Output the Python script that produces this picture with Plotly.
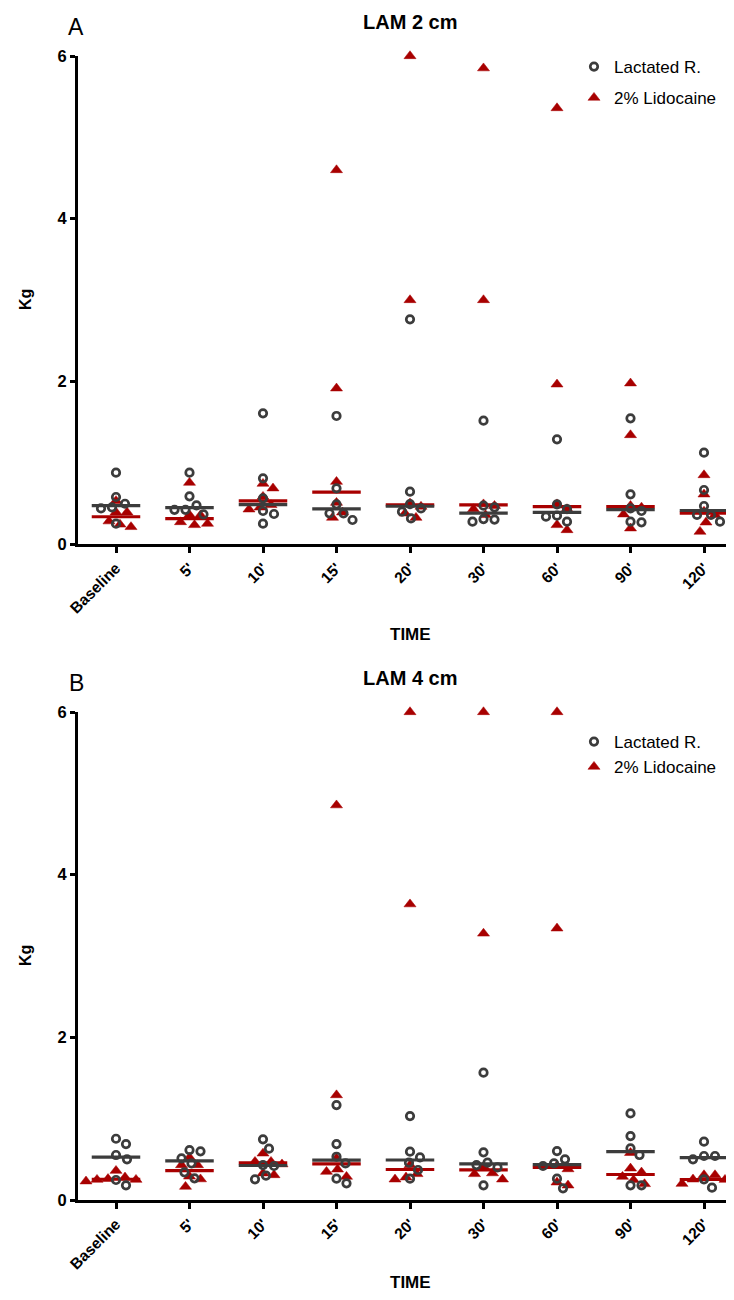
import numpy as np
import plotly.graph_objects as go

categories = ["Baseline", "5'", "10'", "15'", "20'", "30'", "60'", "90'", "120'"]
y_ticks = [0, 2, 4, 6]

# Panel A (LAM 2 cm), Kg, 6 animals per group
a_lactated = [
    [0.877, 0.578, 0.45, 0.495, 0.438, 0.25],
    [0.877, 0.586, 0.42, 0.42, 0.475, 0.365],
    [1.607, 0.807, 0.561, 0.406, 0.369, 0.25],
    [1.574, 0.685, 0.488, 0.377, 0.377, 0.295],
    [2.763, 0.643, 0.49, 0.438, 0.397, 0.315],
    [1.516, 0.471, 0.45, 0.307, 0.274, 0.30],
    [1.287, 0.488, 0.43, 0.348, 0.336, 0.274],
    [1.545, 0.611, 0.438, 0.406, 0.274, 0.266],
    [1.123, 0.664, 0.467, 0.357, 0.357, 0.274],
]
a_lidocaine = [
    [0.53, 0.39, 0.39, 0.28, 0.24, 0.21],
    [0.754, 0.357, 0.355, 0.27, 0.25, 0.234],
    [0.742, 0.685, 0.582, 0.48, 0.45, 0.426],
    [4.598, 1.914, 0.766, 0.508, 0.39, 0.324],
    [6.0, 3.0, 0.50, 0.46, 0.377, 0.324],
    [5.85, 3.0, 0.49, 0.47, 0.43, 0.357],
    [5.36, 1.963, 0.49, 0.43, 0.234, 0.172],
    [1.976, 1.34, 0.47, 0.45, 0.365, 0.193],
    [0.848, 0.611, 0.40, 0.357, 0.266, 0.152],
]

# Panel B (LAM 4 cm)
b_lactated = [
    [0.753, 0.688, 0.553, 0.5, 0.246, 0.18],
    [0.614, 0.598, 0.512, 0.45, 0.34, 0.266],
    [0.746, 0.631, 0.43, 0.418, 0.299, 0.254],
    [1.167, 0.688, 0.532, 0.45, 0.262, 0.205],
    [1.032, 0.594, 0.524, 0.459, 0.369, 0.262],
    [1.565, 0.586, 0.459, 0.43, 0.401, 0.18],
    [0.602, 0.5, 0.45, 0.418, 0.262, 0.143],
    [1.065, 0.786, 0.635, 0.553, 0.18, 0.18],
    [0.717, 0.541, 0.541, 0.5, 0.254, 0.152],
]
b_lidocaine = [
    [0.36, 0.279, 0.26, 0.25, 0.25, 0.23],
    [0.524, 0.43, 0.43, 0.29, 0.256, 0.164],
    [0.573, 0.471, 0.471, 0.44, 0.328, 0.307],
    [4.854, 1.29, 0.512, 0.377, 0.348, 0.287],
    [6.0, 3.637, 0.43, 0.32, 0.279, 0.254],
    [6.0, 3.277, 0.41, 0.33, 0.32, 0.254],
    [6.0, 3.34, 0.42, 0.38, 0.217, 0.18],
    [0.58, 0.389, 0.34, 0.287, 0.246, 0.197],
    [0.307, 0.307, 0.254, 0.25, 0.2, 0.2],
]

# ---------------- layout geometry (page pixels) ----------------
PAGE_W, PAGE_H = 734, 1300
OFF = 8                      # default body margin of the page
FW, FH = PAGE_W - OFF, PAGE_H - 2 * OFF
FONT = "Liberation Sans, Arial, sans-serif"
GRAY = "#3c3c3c"
RED = "#a80000"


def fx(px):
    return (px - OFF) / FW


def fy(py):
    return 1 - (py - OFF) / FH


X_LEFT, X_RIGHT = 78, 734
XMIN = -0.517
XMAX = XMIN + (X_RIGHT - X_LEFT) / 73.5
PPX = (X_RIGHT - X_LEFT) / (XMAX - XMIN)
PANELS = [
    dict(top=56, bottom=544, title="LAM 2 cm", letter="A", lr=a_lactated, li=a_lidocaine,
         legend="legend", leg_y=49, gap=6, order="grouped"),
    dict(top=712, bottom=1200, title="LAM 4 cm", letter="B", lr=b_lactated, li=b_lidocaine,
         legend="legend2", leg_y=724, gap=0, order="normal"),
]


def swarm(vals, ppy, d=11.0):
    vals = np.asarray(vals, dtype=float)
    order = np.argsort(-vals, kind="stable")
    placed = []
    offs = np.zeros(len(vals))
    for i in order:
        y = vals[i] * ppy
        cand = 0.0
        for k in range(400):
            cand = 0.0 if k == 0 else ((k + 1) // 2) * (1 if k % 2 else -1) * 1.0
            if all((cand - px) ** 2 + (y - py) ** 2 >= d * d for px, py in placed):
                break
        placed.append((cand, y))
        offs[i] = cand / PPX
    return offs


fig = go.Figure()
annotations = []

for p_idx, P in enumerate(PANELS):
    sfx = "" if p_idx == 0 else "2"
    xref, yref = "x" + sfx, "y" + sfx
    ppy = (P["bottom"] - P["top"]) / 6.0

    def points(groups):
        xs, ys = [], []
        for i, vals in enumerate(groups):
            offs = swarm(vals, ppy)
            xs += list(i + offs)
            ys += list(vals)
        return xs, ys

    def medians(groups):
        xs, ys = [], []
        for i, vals in enumerate(groups):
            m = float(np.median(vals))
            xs += [i - 0.33, i + 0.33, None]
            ys += [m, m, None]
        return xs, ys

    # Lidocaine
    x, y = points(P["li"])
    fig.add_trace(go.Scatter(
        x=x, y=y, mode="markers", name="2% Lidocaine", xaxis=xref, yaxis=yref,
        marker=dict(symbol="triangle-up", size=10.5, color=RED, line=dict(color=RED, width=0.5)),
        cliponaxis=False, legend=P["legend"], legendrank=2, legendgroup="li" + sfx))
    x, y = medians(P["li"])
    fig.add_trace(go.Scatter(
        x=x, y=y, mode="lines", xaxis=xref, yaxis=yref, showlegend=False,
        line=dict(color=RED, width=3.2), hoverinfo="skip"))
    # Lactated Ringer
    x, y = points(P["lr"])
    fig.add_trace(go.Scatter(
        x=x, y=y, mode="markers", name="Lactated R.", xaxis=xref, yaxis=yref,
        marker=dict(symbol="circle-open", size=7.5, color=GRAY, line=dict(color=GRAY, width=2.7)),
        cliponaxis=False, legend=P["legend"], legendrank=1, legendgroup="lr" + sfx))
    x, y = medians(P["lr"])
    fig.add_trace(go.Scatter(
        x=x, y=y, mode="lines", xaxis=xref, yaxis=yref, showlegend=False,
        line=dict(color=GRAY, width=3.2), hoverinfo="skip"))

    axis_common = dict(showgrid=False, zeroline=False, showline=True, linecolor="black",
                       linewidth=3, ticks="outside", tickcolor="black", tickwidth=2.5,
                       automargin=False)
    fig.update_layout(**{
        "xaxis" + sfx: dict(axis_common, domain=[fx(X_LEFT), fx(X_RIGHT)], range=[XMIN, XMAX],
                            tickvals=list(range(len(categories))), ticktext=categories,
                            tickangle=-45, ticklen=6, anchor=yref,
                            tickfont=dict(family=FONT, size=15.5, color="black", weight="bold")),
        "yaxis" + sfx: dict(axis_common, domain=[fy(P["bottom"]), fy(P["top"])], range=[0, 6],
                            tickvals=y_ticks, ticklen=5, anchor=xref,
                            tickfont=dict(family=FONT, size=16.5, color="black", weight="bold")),
        P["legend"]: dict(x=fx(574), y=fy(P["leg_y"]), xanchor="left", yanchor="top",
                          font=dict(family=FONT, size=17, color="black"),
                          bgcolor="rgba(0,0,0,0)", tracegroupgap=P["gap"],
                          traceorder=P["order"], itemwidth=30),
    })

    mid = (P["top"] + P["bottom"]) / 2
    annotations += [
        dict(text=P["title"], x=fx(410), y=fy(P["top"] - 34), xref="paper", yref="paper",
             showarrow=False, xanchor="center", yanchor="middle",
             font=dict(family=FONT, size=20, color="black", weight="bold")),
        dict(text=P["letter"], x=fx(76), y=fy(P["top"] - 29), xref="paper", yref="paper",
             showarrow=False, xanchor="center", yanchor="middle",
             font=dict(family=FONT, size=23, color="black")),
        dict(text="TIME", x=fx(410), y=fy(min(P["bottom"] + 90, 1282)), xref="paper", yref="paper",
             showarrow=False, xanchor="center", yanchor="middle",
             font=dict(family=FONT, size=17, color="black", weight="bold")),
        dict(text="Kg", x=fx(25), y=fy(mid), xref="paper", yref="paper", textangle=-90,
             showarrow=False, xanchor="center", yanchor="middle",
             font=dict(family=FONT, size=16, color="black", weight="bold")),
    ]

fig.update_layout(
    width=FW, height=FH, margin=dict(l=0, r=0, t=0, b=0, pad=0, autoexpand=False),
    paper_bgcolor="white", plot_bgcolor="white",
    annotations=annotations, showlegend=True,
)

fig.write_html("out.html", config={"displayModeBar": False})
